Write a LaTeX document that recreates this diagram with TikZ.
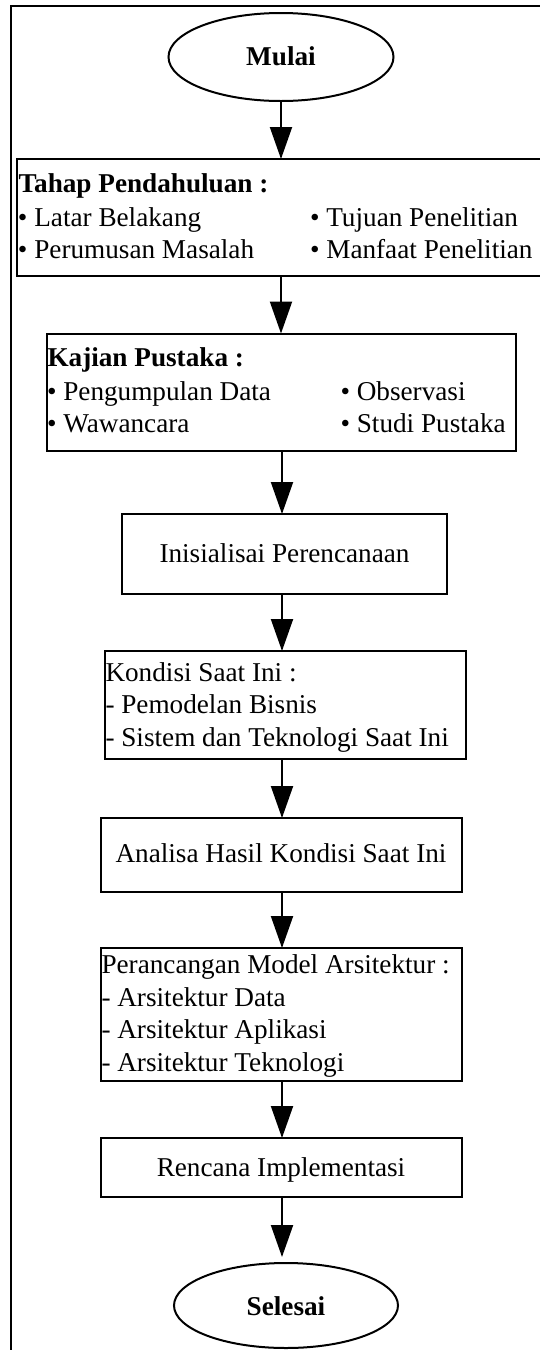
\documentclass[tikz,border=0pt]{standalone}
\usepackage{fontspec}
\setmainfont{Liberation Serif}
\usetikzlibrary{arrows.meta,shapes.geometric}
\begin{document}
\begin{tikzpicture}[x=0.5pt,y=-0.5pt,
  every node/.style={inner sep=0pt, outer sep=0pt},
  box/.style={draw, line width=1pt, rectangle, anchor=north west},
  oval/.style={draw, line width=1pt, ellipse},
  txt/.style={font=\fontsize{13.6pt}{16pt}\selectfont, anchor=base west},
  ctxt/.style={font=\fontsize{13.6pt}{16pt}\selectfont, anchor=base},
  arr/.style={line width=1pt, -{Triangle[length=16pt,width=11pt]}},
]
\useasboundingbox (0,0) rectangle (540,1350);
\clip (0,0) rectangle (540,1350);
% outer frame
\draw[line width=1pt] (11,1400) -- (11,5.7) -- (620,5.7);

% shapes
\node[oval, minimum width=112.5pt, minimum height=44pt] (mulai) at (281,57) {};
\node[box, minimum width=291.5pt, minimum height=58.5pt] (tahap) at (17,159) {};
\node[box, minimum width=234.5pt, minimum height=58.75pt] (kajian) at (46.5,333.5) {};
\node[box, minimum width=162.5pt, minimum height=40pt] (init) at (122,514) {};
\node[box, minimum width=180.5pt, minimum height=54pt] (kondisi) at (105,651) {};
\node[box, minimum width=180.5pt, minimum height=37pt] (analisa) at (101,818) {};
\node[box, minimum width=180.5pt, minimum height=66.5pt] (peran) at (101,948) {};
\node[box, minimum width=180.5pt, minimum height=29.5pt] (rencana) at (101,1138) {};
\node[oval, minimum width=112pt, minimum height=42.5pt] (selesai) at (286,1305.5) {};

% texts
\node[ctxt] (mulaiT) at (281,65) {\bfseries Mulai};
\node[txt] (tahapT) at (18.5,192.7) {\bfseries Tahap Pendahuluan :};
\node[txt] (tahap1) at (18,226.7) {• Latar Belakang};
\node[txt] (tahap2) at (18,258.3) {• Perumusan Masalah};
\node[txt] (tahap3) at (310,226.7) {• Tujuan Penelitian};
\node[txt] (tahap4) at (310,258.3) {• Manfaat Penelitian};

\node[txt] (kajianT) at (47.5,366.7) {\bfseries Kajian Pustaka :};
\node[txt] (kajian1) at (47,400.5) {• Pengumpulan Data};
\node[txt] (kajian2) at (47,432.5) {• Wawancara};
\node[txt] (kajian3) at (340.5,400.5) {• Observasi};
\node[txt] (kajian4) at (340.5,432.5) {• Studi Pustaka};

\node[ctxt] (initT) at (284.5,562) {Inisialisai Perencanaan};

\node[txt] (kondisiT) at (105.5,681) {Kondisi Saat Ini :};
\node[txt] (kondisi1) at (105.5,713) {- Pemodelan Bisnis};
\node[txt] (kondisi2) at (105.5,746) {- Sistem dan Teknologi Saat Ini};

\node[ctxt] (analisaT) at (281,862) {Analisa Hasil Kondisi Saat Ini};

\node[txt] (peranT) at (101.5,973) {Perancangan Model Arsitektur :};
\node[txt] (peran1) at (101.5,1006) {- Arsitektur Data};
\node[txt] (peran2) at (101.5,1038) {- Arsitektur Aplikasi};
\node[txt] (peran3) at (101.5,1071) {- Arsitektur Teknologi};

\node[ctxt] (rencanaT) at (281,1176) {Rencana Implementasi};

\node[ctxt] (selesaiT) at (286,1315) {\bfseries Selesai};

% connectors
\coordinate (ax) at (282,0);
\coordinate (e8) at (282,1257);
\draw[arr] (mulai.south) -- (mulai.south |- tahap.north);
\draw[arr] (mulai.south |- tahap.south) -- (mulai.south |- kajian.north);
\draw[arr] (ax |- kajian.south) -- (ax |- init.north);
\draw[arr] (ax |- init.south) -- (ax |- kondisi.north);
\draw[arr] (ax |- kondisi.south) -- (ax |- analisa.north);
\draw[arr] (ax |- analisa.south) -- (ax |- peran.north);
\draw[arr] (ax |- peran.south) -- (ax |- rencana.north);
\draw[arr] (ax |- rencana.south) -- (e8);
\end{tikzpicture}
\end{document}
